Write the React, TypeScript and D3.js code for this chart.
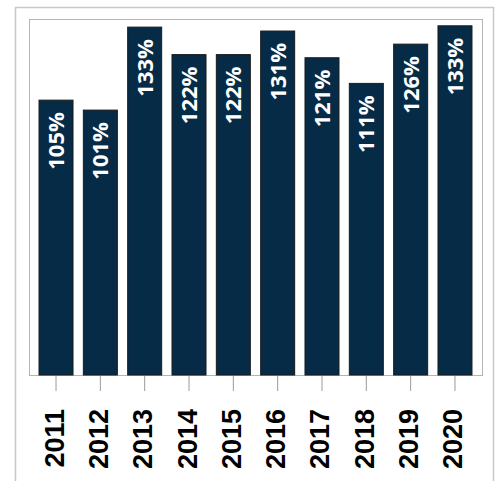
import React from "react";
import * as d3 from "d3";

const years = ["2011", "2012", "2013", "2014", "2015", "2016", "2017", "2018", "2019", "2020"];
const values = [105.0, 101.2, 132.9, 122.4, 122.4, 131.4, 121.2, 111.4, 126.4, 133.4];
const yMax = 136;

const W = 498;
const H = 481;
const plot = { left: 29, right: 482, top: 19, bottom: 375 };

export default function App() {
  const x = d3
    .scaleBand<string>()
    .domain(years)
    .range([plot.left, plot.right])
    .paddingInner(0.233)
    .paddingOuter(0.226);
  const y = d3.scaleLinear().domain([0, yMax]).range([plot.bottom, plot.top]);
  const fmt = (v: number) => `${Math.round(v)}%`;

  return (
    <svg
      width={W}
      height={H}
      style={{ position: "absolute", left: 0, top: 0, background: "#fff" }}
    >
      <rect x={15.5} y={7.5} width={478} height={480} fill="none" stroke="#c8c8c8" strokeWidth={1.5} />
      <rect
        x={plot.left + 0.5}
        y={plot.top + 0.5}
        width={plot.right - plot.left}
        height={plot.bottom - plot.top}
        fill="none"
        stroke="#b4b4b4"
        strokeWidth={1}
      />
      {years.map((yr, i) => {
        const bx = x(yr)!;
        const bw = x.bandwidth();
        const top = y(values[i]);
        const cx = bx + bw / 2;
        return (
          <g key={yr}>
            <rect
              x={bx}
              y={top}
              width={bw}
              height={plot.bottom - top}
              fill="#062b47"
              stroke="#1b1b1b"
              strokeWidth={1}
            />
            <text
              transform={`translate(${cx + 8},${top + 12}) rotate(-90)`}
              textAnchor="end"
              fill="#ffffff"
              fontFamily="'Open Sans', sans-serif"
              fontWeight={700}
              fontSize={22}
            >
              {fmt(values[i])}
            </text>
            <line x1={cx} x2={cx} y1={plot.bottom + 1} y2={391} stroke="#9a9a9a" strokeWidth={1} />
            <text
              transform={`translate(${cx + 7.5},${409}) rotate(-90)`}
              textAnchor="end"
              fill="#000"
              fontFamily="'Liberation Sans', Arial, sans-serif"
              fontWeight={700}
              fontSize={27}
            >
              {yr}
            </text>
          </g>
        );
      })}
    </svg>
  );
}
